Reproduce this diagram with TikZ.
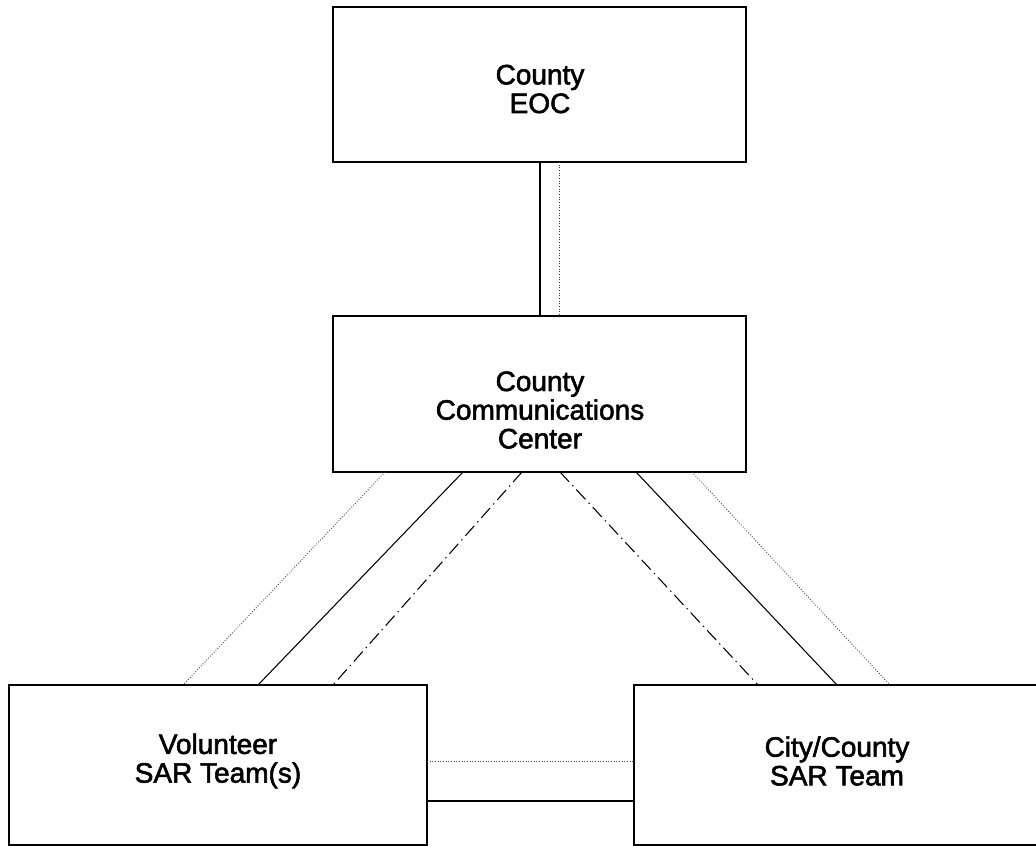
\documentclass[tikz,border=0pt]{standalone}
\usepackage{fontspec}
\setmainfont{Liberation Sans}[FakeBold=2]
\usetikzlibrary{calc}
\begin{document}
\begin{tikzpicture}[x=0.75pt,y=-0.75pt,
  box/.style={draw=black,line width=1.1pt,rectangle,inner sep=0pt,outer sep=0pt,fill=white},
  lbl/.style={align=center,inner sep=0pt,font=\fontsize{21pt}{21.5pt}\selectfont},
  solidline/.style={draw=black,line width=0.8pt},
  dotline/.style={draw=black!75,line width=0.75pt,dash pattern=on 0.6pt off 1.4pt},
  dashdotline/.style={draw=black,line width=0.8pt,dash pattern=on 10pt off 3.5pt on 1pt off 3.5pt}]
\useasboundingbox (0,0) rectangle (1036,846);
\clip (0,0) rectangle (1036,846);
% boxes
\node[box,minimum width=309.75pt,minimum height=116.25pt] (eoc) at (539.5,84.5) {};
\node[box,minimum width=309.75pt,minimum height=117pt] (ccc) at (539.5,394) {};
\node[box,minimum width=313.5pt,minimum height=120pt] (vol) at (218,765) {};
\node[box,minimum width=304.5pt,minimum height=120pt] (city) at (837,765) {};
% labels
\node[lbl] (eoct) at (540,89) {County\\EOC};
\node[lbl] (ccct) at (540,410) {County\\Communications\\Center};
\node[lbl] (volt) at (218,761) {Volunteer\\SAR Team(s)};
\node[lbl] (cityt) at (837,761) {City/County\\SAR Team};
% EOC - CCC
\draw[solidline] ($(eoc.south west)+(207,0)$) -- ($(ccc.north west)+(207,0)$);
\draw[dotline] ($(eoc.south west)+(226,0)$) -- ($(ccc.north west)+(226,0)$);
% CCC - Volunteer
\draw[dotline] ($(ccc.south west)+(52,0)$) -- ($(vol.north west)+(174,0)$);
\draw[solidline] ($(ccc.south west)+(130,0)$) -- ($(vol.north west)+(249,0)$);
\draw[dashdotline] ($(ccc.south west)+(189,0)$) -- ($(vol.north west)+(324,0)$);
% CCC - City
\draw[dashdotline] ($(ccc.south west)+(227,0)$) -- ($(city.north west)+(124,0)$);
\draw[solidline] ($(ccc.south west)+(303,0)$) -- ($(city.north west)+(203,0)$);
\draw[dotline] ($(ccc.south west)+(359,0)$) -- ($(city.north west)+(256,0)$);
% Volunteer - City
\draw[dotline] ($(vol.north east)+(0,76)$) -- ($(city.north west)+(0,76)$);
\draw[solidline] ($(vol.north east)+(0,116)$) -- ($(city.north west)+(0,116)$);
\end{tikzpicture}
\end{document}
